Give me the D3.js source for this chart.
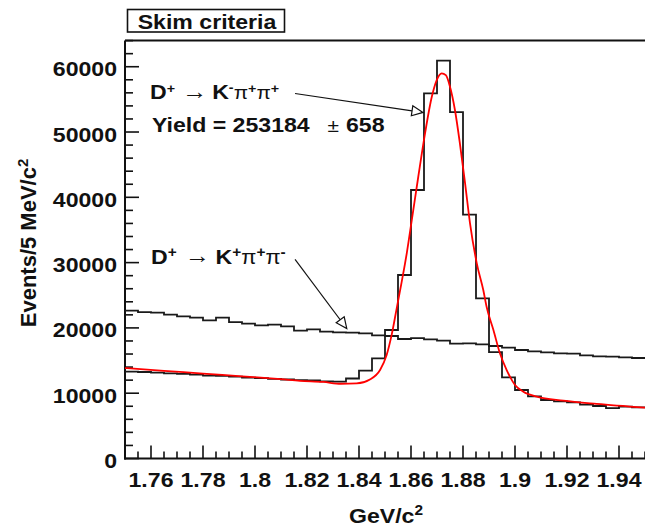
<!DOCTYPE html>
<html><head><meta charset="utf-8">
<script src="https://cdn.jsdelivr.net/npm/d3@7"></script>
<style>
html,body{margin:0;padding:0;background:#fff;}
svg{display:block;font-family:"Liberation Sans",Arial,Helvetica,sans-serif;}
</style>
</head><body>
<svg id="c" width="645" height="527"></svg>
<script>
// ---- data ----
const binStart = 1.75;
const binWidth = 0.005;
const wrongSign = [22640,22430,22330,22020,21770,21560,21160,21560,20900,20650,
                   20390,20490,20240,19570,19780,19420,19320,19270,19170,18860,
                   18760,18300,18450,18250,18040,17580,17640,17490,17230,16970,
                   16620,16420,16260,16110,16050,15800,15650,15590,15500,15390];
const rightSign = [13300,13250,13150,13050,12950,12850,12700,12650,12550,12400,
                   12300,12200,12100,12000,11950,11800,11780,12250,13450,15320,
                   19680,28100,41120,55930,60920,53060,37340,24530,16300,12430,
                   10490,9500,8960,8760,8600,8240,8040,7730,7940,7840];
const fitX = [1.75,1.765,1.78,1.795,1.81,1.8173,1.8263,1.833,1.8391,1.8442,
              1.8481,1.8506,1.8526,1.8545,1.8564,1.8584,1.8603,1.8628,1.8654,1.868,
              1.8699,1.8718,1.8734,1.875,1.8769,1.8788,1.8808,1.8827,1.8853,1.8878,
              1.8891,1.8917,1.8942,1.8968,1.9,1.9032,1.9084,1.9186,1.9314,1.95];
const fitY = [13850,13430,13000,12580,12150,11900,11720,11450,11500,12100,
              13550,15800,19000,23000,27000,31500,36500,43150,49800,55400,
              57960,58990,58700,56930,53370,48270,42140,36020,29890,25800,
              23200,19680,16110,13550,11260,10230,9460,8850,8350,7780];
const yTickValues = [0,10000,20000,30000,40000,50000,60000];
const yTickLabels = ["0","10000","20000","30000","40000","50000","60000"];
const xTickValues = [1.76,1.78,1.80,1.82,1.84,1.86,1.88,1.90,1.92,1.94];
const xTickLabels = ["1.76","1.78","1.8","1.82","1.84","1.86","1.88","1.9","1.92","1.94"];
const yDomain = [0, 64000];
const xDomain = [1.75, 1.95];
const arrow1 = {from:[1.8154, 55900], to:[1.8646, 53000]};
const arrow2 = {from:[1.8154, 30500], to:[1.8353, 19900]};

// ---- drawing ----
const svg = d3.select("#c");
const L = 125, R = 645, T = 40.6, B = 458.5;
const x = d3.scaleLinear().domain(xDomain).range([L, R]);
const y = d3.scaleLinear().domain(yDomain).range([B, T]);
const SX = 1.1;
const ink = "#111";

function txt(px, py, str, opt = {}) {
  return svg.append("text")
    .attr("transform", `translate(${px},${py}) scale(${opt.sx || SX},1)`)
    .attr("text-anchor", opt.anchor || "start")
    .style("font-size", (opt.size || 21) + "px")
    .style("font-weight", opt.weight || "bold")
    .attr("fill", ink)
    .text(str);
}

svg.append("line").attr("x1", L).attr("x2", R).attr("y1", T).attr("y2", T)
  .attr("stroke", ink).attr("stroke-width", 2);
svg.append("line").attr("x1", L).attr("x2", L).attr("y1", T).attr("y2", B + 1)
  .attr("stroke", ink).attr("stroke-width", 2);
svg.append("line").attr("x1", L - 1).attr("x2", R).attr("y1", B).attr("y2", B)
  .attr("stroke", ink).attr("stroke-width", 2);

const yMinor = d3.range(yDomain[0], yDomain[1] + 1, 2000);
svg.append("g").selectAll("line").data(yMinor).join("line")
  .attr("x1", L).attr("x2", d => L + (d % 10000 === 0 ? 14 : 8))
  .attr("y1", d => y(d)).attr("y2", d => y(d))
  .attr("stroke", ink).attr("stroke-width", 1.6);
yTickValues.forEach((v, i) => txt(117, y(v) + 9.5, yTickLabels[i], {anchor: "end"}));

const xMinor = d3.range(0, 41).map(i => xDomain[0] + i * 0.005);
svg.append("g").selectAll("line").data(xMinor).join("line")
  .attr("x1", d => x(d)).attr("x2", d => x(d))
  .attr("y1", B)
  .attr("y2", d => B - (xTickValues.some(t => Math.abs(t - d) < 1e-6) ? 13 : 7))
  .attr("stroke", ink).attr("stroke-width", 1.6);
xTickValues.forEach((v, i) => txt(x(v), 487, xTickLabels[i], {anchor: "middle"}));

const xt = txt(386, 523, "GeV/c", {anchor: "middle"});
xt.append("tspan").attr("dy", -8).style("font-size", "14px").text("2");
const yt = svg.append("text")
  .attr("transform", "translate(35.5,243) rotate(-90)")
  .attr("text-anchor", "middle")
  .style("font-size", "22px").style("font-weight", "bold").attr("fill", ink)
  .text("Events/5 MeV/c");
yt.append("tspan").attr("dy", -8).style("font-size", "15px").text("2");

const edgePts = vals => vals.map((v, i) => [binStart + i * binWidth, v])
  .concat([[binStart + vals.length * binWidth, vals[vals.length - 1]]]);
const step = d3.line().x(d => x(d[0])).y(d => y(d[1])).curve(d3.curveStepAfter);
svg.append("path").attr("d", step(edgePts(wrongSign)))
  .attr("fill", "none").attr("stroke", "#1a1a1a").attr("stroke-width", 1.8);
svg.append("path").attr("d", step(edgePts(rightSign)))
  .attr("fill", "none").attr("stroke", "#1a1a1a").attr("stroke-width", 1.8);

const fitLine = d3.line().x(d => x(d[0])).y(d => y(d[1])).curve(d3.curveMonotoneX);
svg.append("path").attr("d", fitLine(fitX.map((v, i) => [v, fitY[i]])))
  .attr("fill", "none").attr("stroke", "#ff0000").attr("stroke-width", 1.8);

function arrow(a) {
  const x0 = x(a.from[0]), y0 = y(a.from[1]), x1 = x(a.to[0]), y1 = y(a.to[1]);
  const ang = Math.atan2(y1 - y0, x1 - x0), len = 11, hw = 5;
  const bx = x1 - len * Math.cos(ang), by = y1 - len * Math.sin(ang);
  svg.append("line").attr("x1", x0).attr("y1", y0).attr("x2", bx).attr("y2", by)
    .attr("stroke", ink).attr("stroke-width", 1.2);
  const p = [[x1, y1],
             [bx + hw * Math.sin(ang), by - hw * Math.cos(ang)],
             [bx - hw * Math.sin(ang), by + hw * Math.cos(ang)]];
  svg.append("polygon").attr("points", p.map(q => q.join(",")).join(" "))
    .attr("fill", "#fff").attr("stroke", ink).attr("stroke-width", 1.2);
}
arrow(arrow1);
arrow(arrow2);

// decay labels: one text element; main glyphs at measured offsets, superscripts flow
function decay(x0, base, pieces) {
  const t = svg.append("text")
    .attr("transform", `translate(${x0},${base}) scale(${SX},1)`)
    .attr("fill", ink).style("font-size", "21px").style("font-weight", "bold");
  pieces.forEach(p => {
    const s = t.append("tspan")
      .attr("y", -(p.up || 0))
      .style("font-size", (p.size || 21) + "px")
      .style("font-weight", p.w || "bold")
      .text(p.s);
    if (p.dx !== undefined) s.attr("x", p.dx / SX);
  });
  return t;
}
decay(150, 99, [
  {s: "D", dx: 0}, {s: "+", up: 6.5, size: 13},
  {s: "\u2192", dx: 32.3, size: 23, w: "normal", up: 0.5},
  {s: "K", dx: 62.2}, {s: "-", up: 7, size: 13},
  {s: "\u03c0", w: "normal", size: 19}, {s: "+", up: 6.5, size: 13},
  {s: "\u03c0", w: "normal", size: 19}, {s: "+", up: 6.5, size: 13}
]);
decay(151, 263.5, [
  {s: "D", dx: 0}, {s: "+", up: 6.5, size: 14},
  {s: "\u2192", dx: 33.9, size: 23, w: "normal", up: 0.5},
  {s: "K", dx: 64.6}, {s: "+", up: 6.5, size: 14},
  {s: "\u03c0", w: "normal", size: 20}, {s: "+", up: 6.5, size: 14},
  {s: "\u03c0", w: "normal", size: 20}, {s: "-", up: 7, size: 14}
]);
const yieldT = svg.append("text")
  .attr("transform", `translate(152,132) scale(${SX},1)`)
  .attr("fill", ink).style("font-size", "21px").style("font-weight", "bold");
yieldT.append("tspan").attr("x", 0).text("Yield = 253184");
yieldT.append("tspan").attr("x", (327.5 - 152) / SX).style("font-weight", "normal")
  .style("font-size", "19px").text("\u00b1");
yieldT.append("tspan").attr("x", (346 - 152) / SX).text("658");

svg.append("rect").attr("x", 127.5).attr("y", 9.5).attr("width", 157).attr("height", 22.5)
  .attr("fill", "#fff").attr("stroke", ink).attr("stroke-width", 1.6);
txt(207, 29, "Skim criteria", {anchor: "middle"});
</script>
</body></html>
